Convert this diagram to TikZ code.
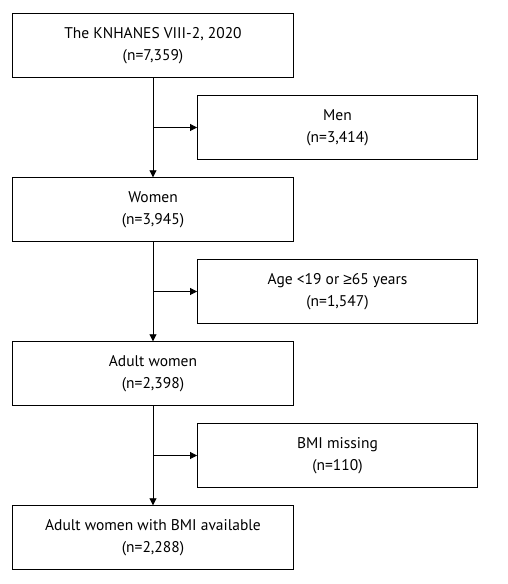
\documentclass[tikz,border=0pt]{standalone}
\usepackage{fontspec}
\setmainfont{PT Sans}
\newfontfamily\geqfont{Liberation Sans}
\usetikzlibrary{arrows.meta}

\begin{document}
\begin{tikzpicture}[x=1pt,y=1pt,
  flowbox/.style={draw,line width=0.9pt,minimum width=281pt,minimum height=63.5pt,
    align=center,inner sep=0pt,font=\fontsize{15.5}{22}\selectfont},
  flowarrow/.style={line width=0.9pt,-{Triangle[length=7pt,width=7pt]}}]
\useasboundingbox (0,0) rectangle (508,584);
% The main chain
\node[flowbox] (survey) at (153,538.5) {The KNHANES VIII-2, 2020\\(n=7,359)};
\node[flowbox] (women) at (153,374.5) {Women\\(n=3,945)};
\node[flowbox] (adult) at (153,210.5) {Adult women\\(n=2,398)};
\node[flowbox] (final) at (153,46.5) {Adult women with BMI available\\(n=2,288)};
% The excluded ones
\node[flowbox,minimum width=280pt] (men) at (337.5,456.5) {Men\\(n=3,414)};
\node[flowbox,minimum width=280pt] (age) at (337.5,292.5) {Age <19 or {\geqfont ≥}65 years\\(n=1,547)};
\node[flowbox,minimum width=280pt] (bmi) at (337.5,128.5) {BMI missing\\(n=110)};

\draw[flowarrow] (survey) -- (women);
\draw[flowarrow] (women) -- (adult);
\draw[flowarrow] (adult) -- (final);
\draw[flowarrow] (survey.south |- men.west) -- (men.west);
\draw[flowarrow] (women.south |- age.west) -- (age.west);
\draw[flowarrow] (adult.south |- bmi.west) -- (bmi.west);
\end{tikzpicture}
\end{document}
